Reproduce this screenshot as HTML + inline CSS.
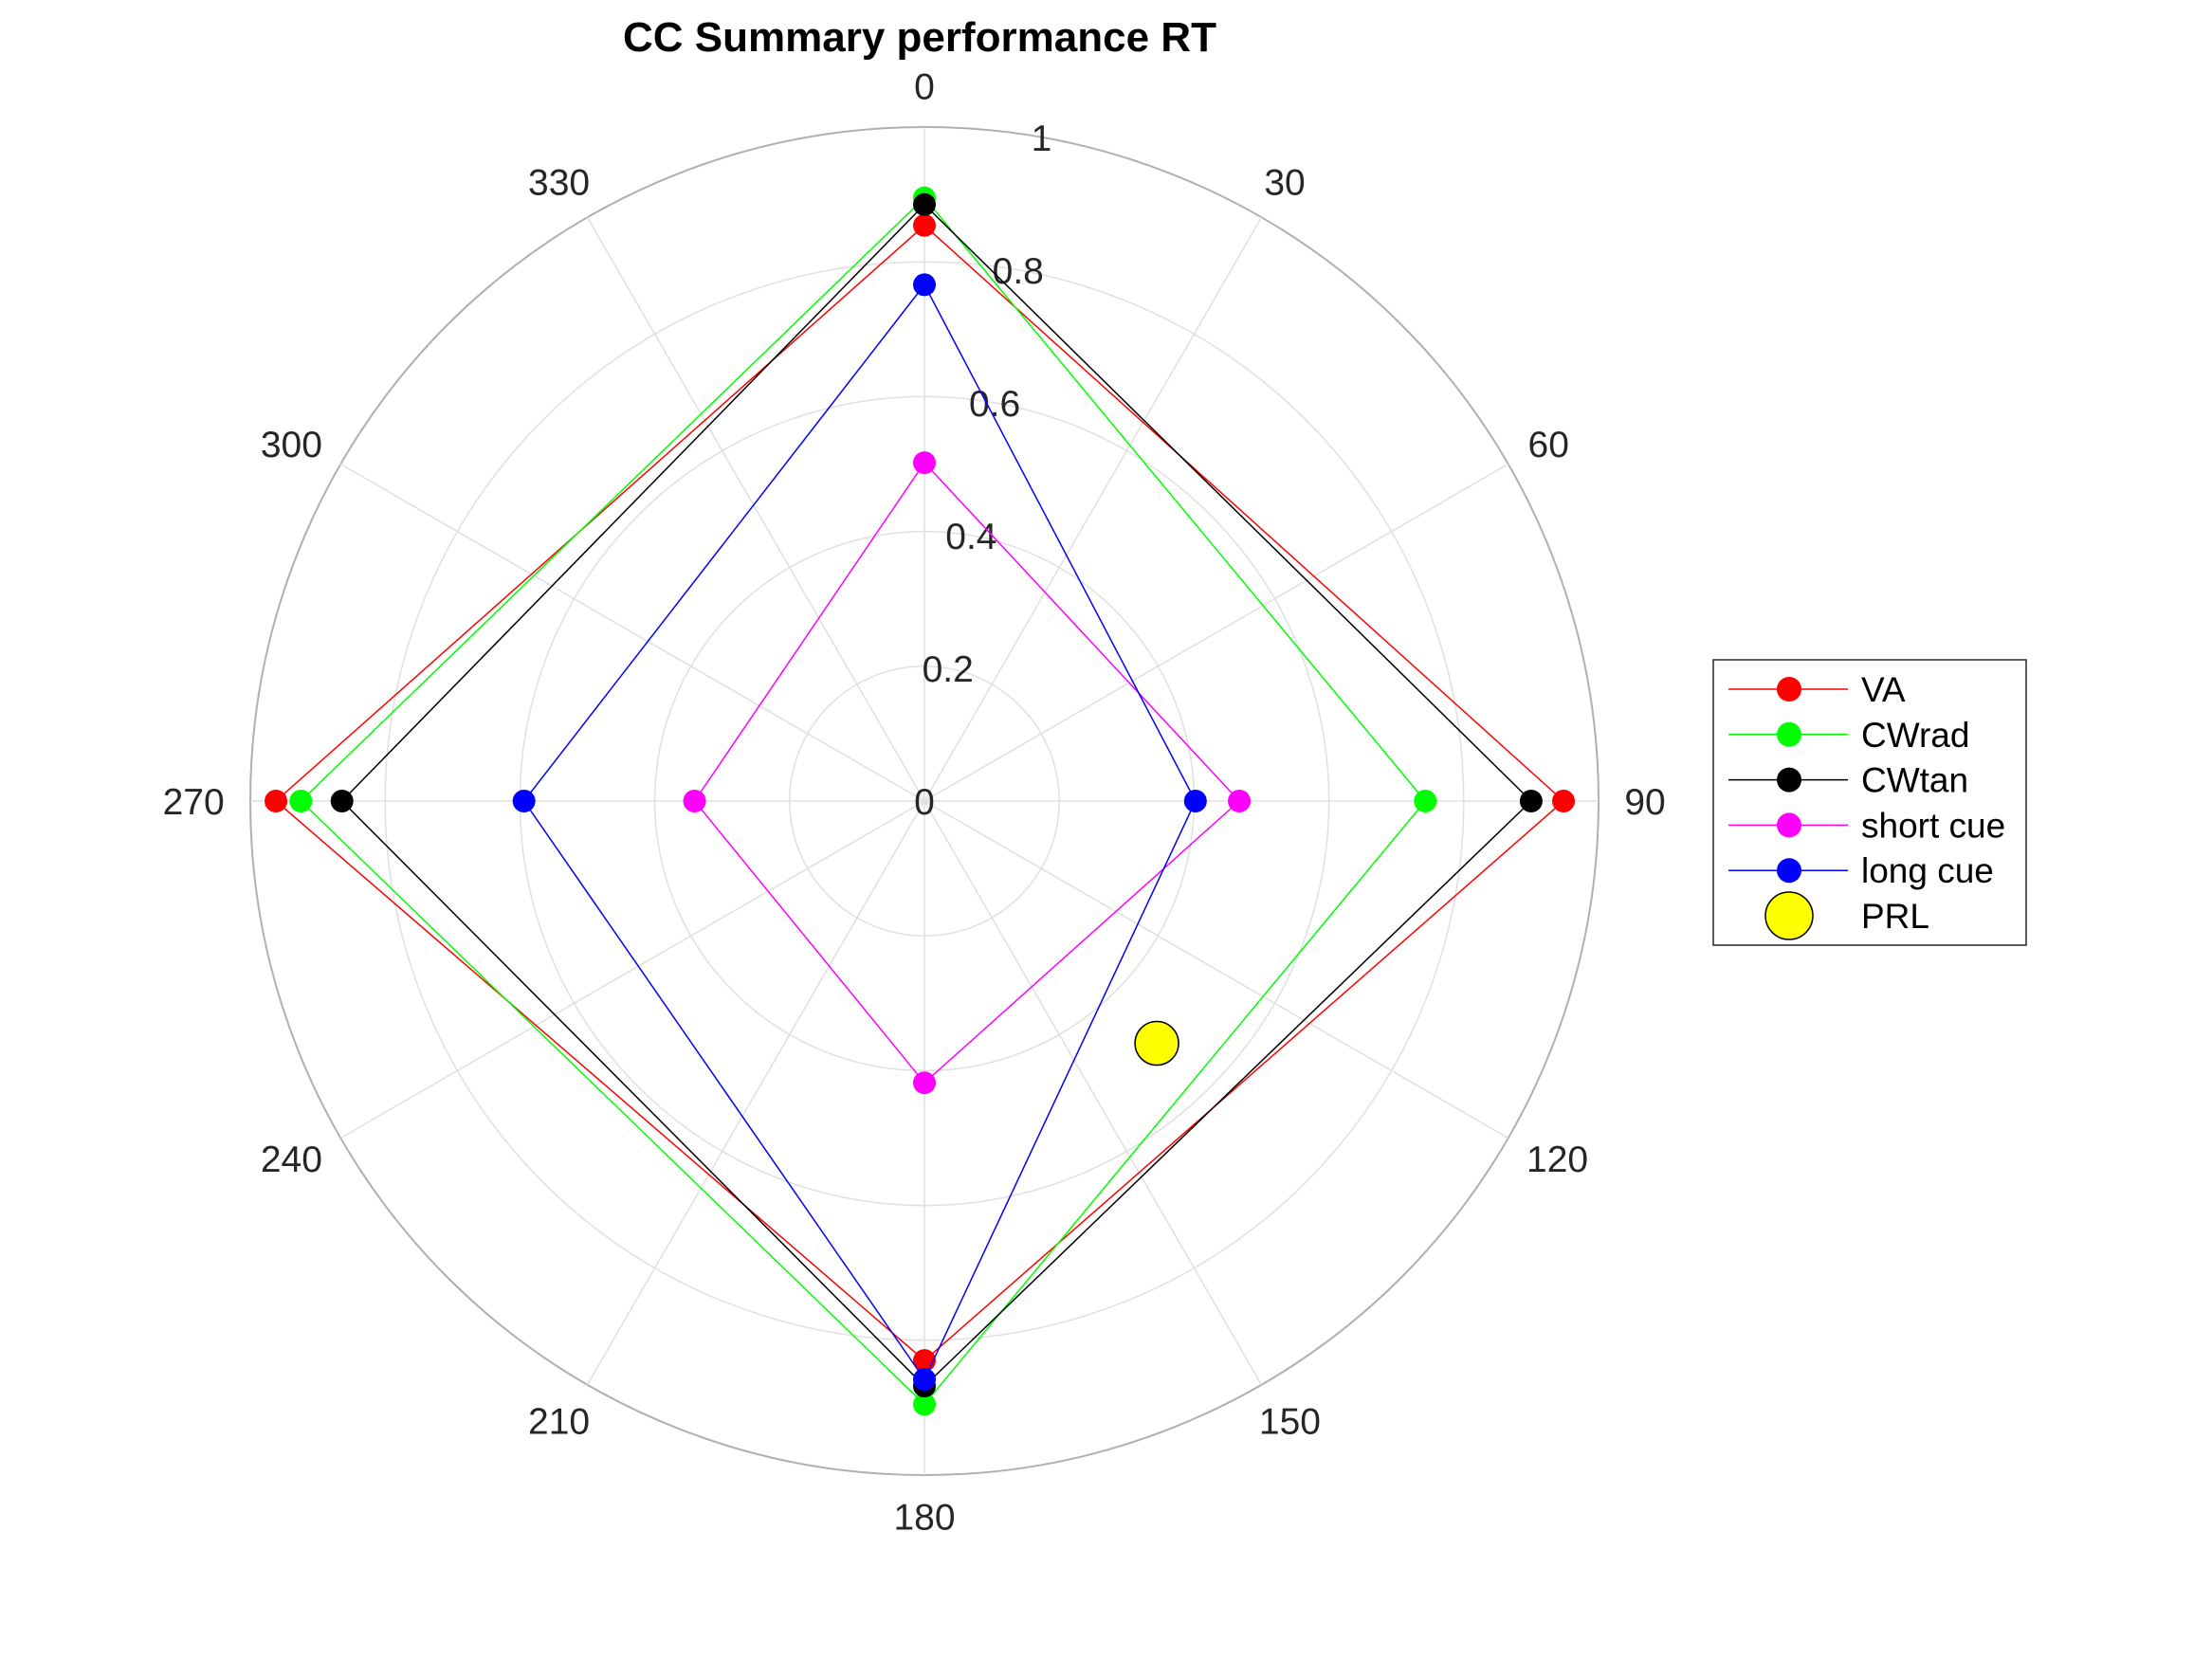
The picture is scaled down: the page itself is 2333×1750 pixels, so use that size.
<!DOCTYPE html>
<html><head><meta charset="utf-8"><style>
html,body{margin:0;padding:0;background:#fff}
svg{display:block;font-family:"Liberation Sans",Arial,sans-serif}
</style></head><body>
<svg id="chart" width="2333" height="1750" viewBox="0 0 2333 1750" xmlns="http://www.w3.org/2000/svg">
<text x="970" y="54" text-anchor="middle" font-size="44" font-weight="bold">CC Summary performance RT</text>
<g id="grid"></g>
<g id="series"></g>
<g id="legend"></g>
</svg>
<script>
const angles=[0,90,180,270];
const seriesNames=["VA","CWrad","CWtan","short cue","long cue"];
const seriesColors=["#ff0000","#00ff00","#000000","#ff00ff","#0000ff"];
const vaValues=[0.854,0.948,0.83,0.962];
const cwradValues=[0.895,0.743,0.895,0.925];
const cwtanValues=[0.885,0.900,0.868,0.864];
const shortCueValues=[0.502,0.467,0.418,0.341];
const longCueValues=[0.766,0.402,0.858,0.594];
const prlAngle=136.2, prlRadius=0.498;
const rTicks=[0,0.2,0.4,0.6,0.8,1];
const thetaTicks=[0,30,60,90,120,150,180,210,240,270,300,330];

const NS="http://www.w3.org/2000/svg";
const cx=975,cy=845,R=711;
function px(theta,r){const a=theta*Math.PI/180;return [cx+Math.sin(a)*r*R, cy-Math.cos(a)*r*R];}
function mk(tag,attrs,parent){const e=document.createElementNS(NS,tag);for(const k in attrs)e.setAttribute(k,attrs[k]);parent.appendChild(e);return e;}
const grid=document.getElementById('grid');
rTicks.forEach((t,i)=>{if(t===0)return;
 const c=mk('circle',{cx:cx,cy:cy,r:t*R,fill:'none',stroke:t===1?'#b0b0b0':'#e0e0e0','stroke-width':t===1?2:1.5},grid);
 
 
});
thetaTicks.forEach(t=>{
 const p=px(t,1);
 const l=mk('line',{x1:cx,y1:cy,x2:p[0],y2:p[1],stroke:'#e0e0e0','stroke-width':1.5},grid);
 
 
 const q=px(t,1.03);
 const tx=mk('text',{x:q[0],y:q[1]+14,'text-anchor':'middle','font-size':39,fill:'#262626'},grid);
 tx.textContent=t;
 
 
 const a=t*Math.PI/180;
 const w=tx.getComputedTextLength ? tx.getComputedTextLength() : 22*String(t).length;
 const hw=w/2+6, hh=16+6;
 tx.setAttribute('x', q[0]+Math.sin(a)*hw);
 tx.setAttribute('y', q[1]+14-Math.cos(a)*hh);
});
rTicks.forEach(t=>{
 const q=px(10,t);
 const tx=mk('text',{x:q[0],y:q[1]+14,'text-anchor':'middle','font-size':39,fill:'#262626'},grid);
 tx.textContent=String(t);
 
 
});
const ser=document.getElementById('series');
const allVals=[vaValues,cwradValues,cwtanValues,shortCueValues,longCueValues];
allVals.forEach((vals,si)=>{
 const pts=vals.map((v,i)=>px(angles[i],v));pts.push(pts[0]);
 const pl=mk('polyline',{points:pts.map(p=>p.join(',')).join(' '),fill:'none',stroke:seriesColors[si],'stroke-width':1.5},ser);
 
 
 vals.forEach((v,i)=>{const p=px(angles[i],v);
  const c=mk('circle',{cx:p[0],cy:p[1],r:12,fill:seriesColors[si]},ser);
  
  
 });
});
const pp=px(prlAngle,prlRadius);
const prl=mk('circle',{cx:pp[0],cy:pp[1],r:23,fill:'#ffff00',stroke:'#000','stroke-width':1.5},ser);


const lg=document.getElementById('legend');
const box=mk('rect',{x:1807,y:696,width:330,height:301,fill:'#fff',stroke:'#262626','stroke-width':1.5},lg);


const names=seriesNames.concat(["PRL"]);
names.forEach((n,i)=>{
 const y=727+i*47.8;
 if(i<5){
  const l=mk('line',{x1:1823,y1:y,x2:1949,y2:y,stroke:seriesColors[i],'stroke-width':1.5},lg);
  
  
  const c=mk('circle',{cx:1887,cy:y,r:13,fill:seriesColors[i]},lg);
  
  
 } else {
  const c=mk('circle',{cx:1887,cy:y,r:25,fill:'#ffff00',stroke:'#000','stroke-width':1.5},lg);
  
  
 }
 const t=mk('text',{x:1963,y:y+13,'font-size':37,fill:'#000'},lg);
 t.textContent=n;
 
 
});
</script>
</body></html>
